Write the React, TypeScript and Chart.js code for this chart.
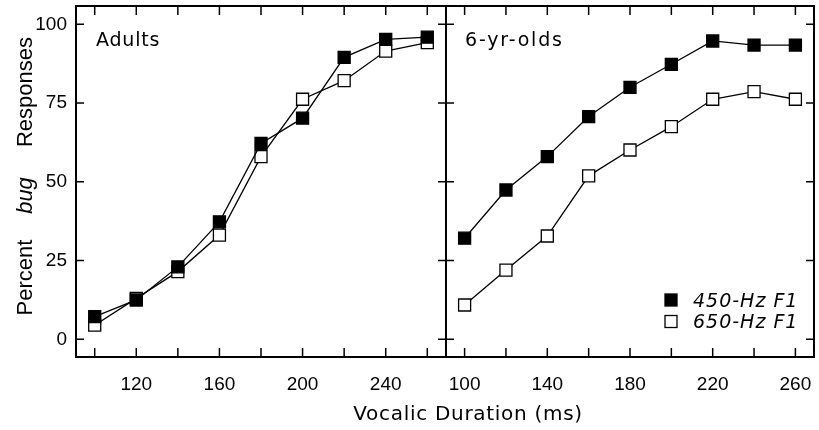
import React, { useEffect, useRef } from "react";
import { Chart, registerables } from "chart.js";

Chart.register(...registerables);

// ---- data ----
const DURATIONS = [100, 120, 140, 160, 180, 200, 220, 240, 260];
const ADULTS_450 = [7.2, 12.5, 23.0, 37.3, 62.2, 70.2, 89.5, 95.2, 95.9];
const ADULTS_650 = [4.5, 13.0, 21.5, 33.1, 58.0, 76.2, 82.1, 91.5, 94.2];
const KIDS_450 = [32.1, 47.4, 58.0, 70.7, 80.0, 87.3, 94.7, 93.4, 93.4];
const KIDS_650 = [10.9, 22.0, 32.8, 51.9, 60.1, 67.5, 76.2, 78.6, 76.2];

const Y_TICKS = [0, 25, 50, 75, 100];
const X_TICKS = [100, 120, 140, 160, 180, 200, 220, 240, 260];
const ADULT_X_LABELS = [120, 160, 200, 240];
const KID_X_LABELS = [100, 140, 180, 220, 260];

const SERIES_NAMES = ["450-Hz F1", "650-Hz F1"];
const PANEL_TITLES = ["Adults", "6-yr-olds"];
const X_TITLE = "Vocalic Duration (ms)";
const Y_TITLE_WORDS = ["Percent", "bug", "Responses"];

const SANS = "'Liberation Sans', Arial, sans-serif";
const DEJA = "'DejaVu Sans', sans-serif";

const framePlugin = {
  id: "frame",
  beforeDatasetsDraw(chart: any) {
    const { ctx, chartArea: a, scales } = chart;
    ctx.save();
    ctx.strokeStyle = "#000";
    ctx.lineWidth = 2;
    ctx.strokeRect(a.left, a.top, a.right - a.left, a.bottom - a.top);
    ctx.lineWidth = 1.5;
    ctx.beginPath();
    for (const v of X_TICKS) {
      const x = scales.x.getPixelForValue(v);
      ctx.moveTo(x, a.bottom);
      ctx.lineTo(x, a.bottom - 9);
      ctx.moveTo(x, a.top);
      ctx.lineTo(x, a.top + 9);
    }
    for (const v of Y_TICKS) {
      const y = scales.y.getPixelForValue(v);
      ctx.moveTo(a.left, y);
      ctx.lineTo(a.left + 8, y);
      ctx.moveTo(a.right, y);
      ctx.lineTo(a.right - 8, y);
    }
    ctx.stroke();
    ctx.restore();
  },
};

function setSpacing(ctx: any, px: number) {
  try {
    ctx.letterSpacing = px + "px";
  } catch (e) {}
}

function makeDatasets(filled: number[], open: number[]) {
  const common = {
    borderColor: "#000",
    borderWidth: 1.3,
    pointStyle: "rect",
    pointRadius: 8.5,
    pointBorderColor: "#000",
    pointBorderWidth: 1.3,
    fill: false,
    tension: 0,
  };
  return [
    {
      ...common,
      label: SERIES_NAMES[0],
      data: DURATIONS.map((d, i) => ({ x: d, y: filled[i] })),
      backgroundColor: "#000",
      pointBackgroundColor: "#000",
    },
    {
      ...common,
      label: SERIES_NAMES[1],
      data: DURATIONS.map((d, i) => ({ x: d, y: open[i] })),
      backgroundColor: "#fff",
      pointBackgroundColor: "#fff",
    },
  ];
}

function makeOptions(opts: {
  labels: number[];
  showY: boolean;
  yWidth: number;
  padRight: number;
}) {
  const tickFont = { family: SANS, size: 19 };
  return {
    animation: false,
    responsive: false,
    maintainAspectRatio: false,
    events: [],
    layout: { autoPadding: false, padding: { left: 0, right: opts.padRight, top: 6, bottom: 0 } },
    plugins: { legend: { display: false }, tooltip: { enabled: false }, title: { display: false } },
    scales: {
      x: {
        type: "linear",
        min: 91,
        max: 269,
        afterBuildTicks: (s: any) => {
          s.ticks = X_TICKS.map((v) => ({ value: v }));
        },
        afterFit: (s: any) => {
          s.height = 73;
          s.paddingLeft = 0;
          s.paddingRight = 0;
          s.paddingTop = 0;
          s.paddingBottom = 0;
        },
        grid: { display: false, drawTicks: false, tickLength: 0 },
        border: { display: false },
        ticks: {
          autoSkip: false,
          maxRotation: 0,
          minRotation: 0,
          padding: 16,
          color: "#000",
          font: tickFont,
          callback: (v: any) => (opts.labels.includes(Number(v)) ? String(v) : ""),
        },
      },
      y: {
        type: "linear",
        min: -5.6,
        max: 105.8,
        afterBuildTicks: (s: any) => {
          s.ticks = Y_TICKS.map((v) => ({ value: v }));
        },
        afterFit: (s: any) => {
          s.width = opts.yWidth;
          s.paddingLeft = 0;
          s.paddingRight = 0;
          s.paddingTop = 0;
          s.paddingBottom = 0;
        },
        grid: { display: false, drawTicks: false, tickLength: 0 },
        border: { display: false },
        ticks: {
          display: opts.showY,
          padding: 9,
          color: "#000",
          font: tickFont,
          callback: (v: any) => String(v),
        },
      },
    },
  };
}

const leftTextPlugin = {
  id: "leftText",
  afterDraw(chart: any) {
    const { ctx, chartArea: a } = chart;
    ctx.save();
    ctx.fillStyle = "#000";
    // panel title
    ctx.font = `19px ${DEJA}`;
    setSpacing(ctx, 0.8);
    ctx.textAlign = "left";
    ctx.textBaseline = "alphabetic";
    ctx.fillText(PANEL_TITLES[0], a.left + 20, a.top + 39.5);
    // x axis title
    ctx.font = `20px ${DEJA}`;
    setSpacing(ctx, 0.7);
    ctx.textAlign = "center";
    ctx.fillText(X_TITLE, 468, 419.5);
    // y axis title
    setSpacing(ctx, 0);
    ctx.translate(31.5, 0);
    ctx.rotate(-Math.PI / 2);
    ctx.textAlign = "center";
    const centers = [277.5, 195.5, 92];
    Y_TITLE_WORDS.forEach((w, i) => {
      ctx.font = i === 1 ? `italic 22px ${SANS}` : `22px ${SANS}`;
      ctx.fillText(w, -centers[i], 0);
    });
    ctx.restore();
  },
};

const rightTextPlugin = {
  id: "rightText",
  afterDraw(chart: any) {
    const { ctx, chartArea: a } = chart;
    ctx.save();
    ctx.fillStyle = "#000";
    ctx.font = `19px ${DEJA}`;
    setSpacing(ctx, 1.8);
    ctx.textAlign = "left";
    ctx.textBaseline = "alphabetic";
    ctx.fillText(PANEL_TITLES[1], a.left + 19, a.top + 39.5);
    // legend
    const rows = [300, 321.5];
    chart.data.datasets.forEach((ds: any, i: number) => {
      const cy = rows[i];
      ctx.fillStyle = ds.pointBackgroundColor;
      ctx.strokeStyle = "#000";
      ctx.lineWidth = 1.3;
      ctx.fillRect(665, cy - 6, 12, 12);
      ctx.strokeRect(665, cy - 6, 12, 12);
      ctx.fillStyle = "#000";
      ctx.font = `oblique 19px ${DEJA}`;
      setSpacing(ctx, 1);
      ctx.fillText(ds.label, 693, cy + 6.5);
    });
    ctx.restore();
  },
};

export default function App() {
  const leftRef = useRef<HTMLCanvasElement | null>(null);
  const rightRef = useRef<HTMLCanvasElement | null>(null);

  useEffect(() => {
    const c1 = new Chart(leftRef.current as HTMLCanvasElement, {
      type: "line",
      data: { datasets: makeDatasets(ADULTS_450, ADULTS_650) as any },
      options: makeOptions({ labels: ADULT_X_LABELS, showY: true, yWidth: 76, padRight: 373 }) as any,
      plugins: [framePlugin, leftTextPlugin],
    });
    const c2 = new Chart(rightRef.current as HTMLCanvasElement, {
      type: "line",
      data: { datasets: makeDatasets(KIDS_450, KIDS_650) as any },
      options: makeOptions({ labels: KID_X_LABELS, showY: false, yWidth: 446, padRight: 5 }) as any,
      plugins: [framePlugin, rightTextPlugin],
    });
    return () => {
      c1.destroy();
      c2.destroy();
    };
  }, []);

  return (
    <div style={{ position: "fixed", left: 0, top: 0, width: 819, height: 430, background: "#fff" }}>
      <canvas ref={leftRef} width={819} height={430} style={{ position: "absolute", left: 0, top: 0 }} />
      <canvas ref={rightRef} width={819} height={430} style={{ position: "absolute", left: 0, top: 0 }} />
    </div>
  );
}
